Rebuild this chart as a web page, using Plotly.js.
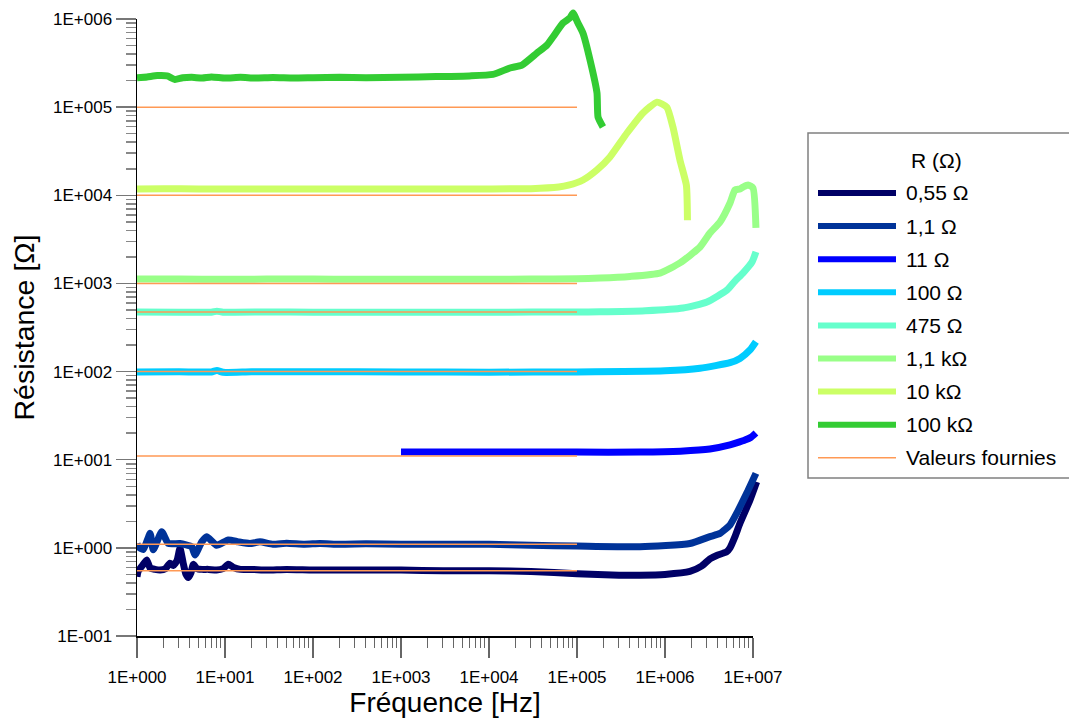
<!DOCTYPE html>
<html><head><meta charset="utf-8">
<script src="https://cdn.plot.ly/plotly-3.0.1.min.js"></script>
<style>html,body{margin:0;padding:0;background:#fff}</style>
</head><body><div id="chart" style="width:1069px;height:718px"></div>
<script>
// ---------- data ----------
const seriesNames = ['0,55 Ω', '1,1 Ω', '11 Ω', '100 Ω', '475 Ω', '1,1 kΩ', '10 kΩ', '100 kΩ'];
const seriesColors = ['#000066', '#003399', '#0000ff', '#00ccff', '#66ffcc', '#99ff88', '#ccff66', '#33cc33'];
const legendTitle = 'R (Ω)';
const refName = 'Valeurs fournies';
const refColor = '#ff9955';
const refValues = [0.55, 1.1, 11, 100, 475, 1000, 10000, 100000];
const refFreqStart = 1;
const refFreqEnd = 100000;

const f_055 = [1, 1.03, 1.15, 1.29, 1.41, 1.6, 1.83, 2.1, 2.37, 2.58, 2.85, 3.08, 3.35, 3.6, 3.83, 4.1, 4.37, 4.8, 5.5, 6.5, 8, 9.5, 10.9, 12.5, 15, 20, 30, 50, 100, 200, 500, 1000, 3000, 10000, 30000, 100000, 300000, 520000, 1000000, 1920000, 2600000, 3240000, 3870000, 5000000, 5480000, 6240000, 7110000, 9250000, 11000000];
const r_055 = [0.47, 0.54, 0.63, 0.73, 0.59, 0.57, 0.56, 0.58, 0.67, 0.63, 0.72, 0.99, 0.67, 0.5, 0.46, 0.52, 0.65, 0.58, 0.57, 0.57, 0.56, 0.58, 0.65, 0.6, 0.57, 0.57, 0.56, 0.57, 0.56, 0.56, 0.56, 0.56, 0.55, 0.55, 0.54, 0.51, 0.49, 0.49, 0.5, 0.54, 0.62, 0.75, 0.82, 0.9, 1.0, 1.34, 1.9, 3.49, 5.6];

const f_1_1 = [1, 1.03, 1.18, 1.41, 1.53, 1.91, 2.27, 3.08, 4.18, 4.56, 5.44, 6.2, 8.05, 10.9, 14.2, 19.2, 25, 35, 50, 80, 120, 200, 400, 1000, 3000, 10000, 30000, 100000, 520000, 1920000, 3240000, 4220000, 5480000, 6530000, 8470000, 10800000];
const r_1_1 = [1.12, 1.03, 0.96, 1.46, 0.95, 1.52, 1.12, 1.12, 1.03, 0.83, 1.17, 1.34, 1.07, 1.23, 1.17, 1.12, 1.17, 1.1, 1.13, 1.1, 1.12, 1.1, 1.11, 1.1, 1.1, 1.1, 1.07, 1.05, 1.03, 1.12, 1.34, 1.46, 1.82, 2.47, 4.16, 7.0];

const f_11 = [1000, 10000, 100000, 520000, 1500000, 3240000, 5480000, 6500000, 8100000, 9500000, 10800000];
const r_11 = [12.2, 12.2, 12.2, 12.2, 12.5, 13.2, 14.7, 15.5, 16.7, 18, 20.1];

const f_100 = [1, 3, 7, 8.1, 9.5, 20, 100, 1000, 10000, 100000, 1000000, 2500000, 5480000, 7110000, 9250000, 10800000];
const r_100 = [99, 99.5, 99, 103, 98, 99.5, 99.5, 99, 98.5, 99, 102, 109, 126, 141, 176, 218];

const f_475 = [1, 3, 7, 8.1, 9.5, 30, 100, 1000, 10000, 100000, 182000, 600000, 1600000, 3000000, 5070000, 6240000, 7690000, 9750000, 10800000];
const r_475 = [474, 472, 472, 485, 472, 474, 472, 472, 472, 474, 476, 490, 526, 615, 841, 1064, 1312, 1750, 2275];

const f_1k1 = [1, 3, 10, 30, 100, 300, 1000, 3000, 10000, 30000, 100000, 182000, 400000, 877000, 1480000, 2500000, 3240000, 4220000, 5480000, 6240000, 7110000, 7700000, 8770000, 10000000, 10800000];
const r_1k1 = [1120, 1120, 1115, 1120, 1120, 1115, 1115, 1115, 1115, 1120, 1130, 1150, 1200, 1310, 1710, 2590, 3730, 4980, 8170, 11500, 11800, 12400, 13100, 12100, 4260];

const f_10k = [1, 2, 5, 10, 30, 100, 300, 1000, 3000, 10000, 30000, 62000, 80000, 117000, 168700, 237000, 370000, 562000, 811000, 1050000, 1230000, 1480000, 1750000, 1800000];
const r_10k = [11800, 11900, 11800, 11800, 11750, 11800, 11750, 11800, 11800, 11800, 11900, 12400, 13000, 14900, 19400, 27200, 50900, 86000, 114000, 100000, 59600, 25000, 13000, 5200];

const f_100k = [1, 1.3, 1.7, 2.2, 2.7, 3.3, 4.2, 5.5, 7, 10, 15, 22, 35, 60, 100, 200, 400, 1000, 2500, 6000, 11100, 17300, 23700, 35100, 45600, 53300, 69300, 83200, 90200, 102500, 117000, 140600, 168700, 173400, 197200];
const r_100k = [215000, 220000, 228000, 226000, 206000, 215000, 218000, 214000, 220000, 214000, 218000, 214000, 217000, 214000, 216000, 218000, 216000, 219000, 222000, 226000, 235000, 278000, 300000, 411000, 507000, 625000, 900000, 1030000, 1170000, 900000, 690000, 343000, 145000, 77000, 59600];

const xTickVals = [1, 10, 100, 1000, 10000, 100000, 1000000, 10000000];
const xTickText = ['1E+000', '1E+001', '1E+002', '1E+003', '1E+004', '1E+005', '1E+006', '1E+007'];
const yTickVals = [0.1, 1, 10, 100, 1000, 10000, 100000, 1000000];
const yTickText = ['1E-001', '1E+000', '1E+001', '1E+002', '1E+003', '1E+004', '1E+005', '1E+006'];
const xTitle = 'Fréquence [Hz]';
const yTitle = 'Résistance [Ω]';

// ---------- build ----------
const seriesX = [f_055, f_1_1, f_11, f_100, f_475, f_1k1, f_10k, f_100k];
const seriesY = [r_055, r_1_1, r_11, r_100, r_475, r_1k1, r_10k, r_100k];

const FONT = 'Arial, "Liberation Sans", sans-serif';

// geometry (pixels): visible axes box and a slightly larger drawing box for the data
const L = 137, R = 775, TOP = 5, BOT = 636;     // data drawing box
const AX_R = 753, AX_T = 19;                     // visible axes end
const W2 = R - L, H2 = BOT - TOP;
const xSpan = 7, ySpan = 7;                      // decades shown by visible axes
const xFrac = (AX_R - L) / W2, yFrac = (BOT - AX_T) / H2;

const traces = [];
// empty trace to carry the visible axes
traces.push({x: [], y: [], xaxis: 'x', yaxis: 'y', type: 'scatter', mode: 'lines', showlegend: false, hoverinfo: 'skip'});
for (let i = 0; i < seriesNames.length; i++) {
  traces.push({
    x: seriesX[i], y: seriesY[i], name: seriesNames[i], type: 'scatter', mode: 'lines',
    xaxis: 'x2', yaxis: 'y2',
    line: {color: seriesColors[i], width: 7, shape: 'spline', smoothing: 0.5},
    showlegend: false, hoverinfo: 'skip'
  });
}
const rx = [], ry = [];
refValues.forEach(v => { rx.push(refFreqStart, refFreqEnd, null); ry.push(v, v, null); });
traces.push({x: rx, y: ry, name: refName, type: 'scatter', mode: 'lines', xaxis: 'x2', yaxis: 'y2',
  line: {color: refColor, width: 1.5}, connectgaps: false, showlegend: false, hoverinfo: 'skip'});

function minorVals(lo, hi) {
  const out = [];
  for (let e = lo; e < hi; e++) for (let d = 2; d <= 9; d++) out.push(d * Math.pow(10, e));
  return out;
}

const pxX = x => (x - L) / W2;
const pxY = y => (BOT - y) / H2;

const shapes = [], annotations = [];
shapes.push({type: 'rect', xref: 'paper', yref: 'paper', x0: pxX(808), x1: pxX(1078), y0: pxY(478), y1: pxY(133),
  line: {color: '#808080', width: 1.5}, fillcolor: 'rgba(0,0,0,0)'});
annotations.push({xref: 'paper', yref: 'paper', x: pxX(936), y: pxY(160), text: legendTitle, showarrow: false,
  xanchor: 'center', yanchor: 'middle', font: {family: FONT, size: 21, color: '#000'}});
const legNames = seriesNames.concat([refName]);
const legColors = seriesColors.concat([refColor]);
for (let i = 0; i < legNames.length; i++) {
  const yy = 193 + i * 33.1;
  const isRef = i === legNames.length - 1;
  shapes.push({type: 'line', xref: 'paper', yref: 'paper', x0: pxX(818), x1: pxX(896), y0: pxY(yy), y1: pxY(yy),
    line: {color: legColors[i], width: isRef ? 1.5 : 6}});
  annotations.push({xref: 'paper', yref: 'paper', x: pxX(904), y: pxY(yy), text: legNames[i], showarrow: false,
    xanchor: 'left', yanchor: 'middle', font: {family: FONT, size: 21, color: '#000'}});
}

const layout = {
  width: 1069, height: 718,
  margin: {l: L, r: 1069 - R, t: TOP, b: 718 - BOT, pad: 0},
  paper_bgcolor: '#fff', plot_bgcolor: 'rgba(0,0,0,0)',
  font: {family: FONT, color: '#000'},
  showlegend: false,
  xaxis: {
    type: 'log', range: [0, xSpan], domain: [0, xFrac], anchor: 'y',
    showgrid: false, zeroline: false,
    showline: true, linecolor: '#000', linewidth: 1.5,
    ticks: 'outside', ticklen: 20, tickwidth: 1.5, tickcolor: '#666',
    tickmode: 'array', tickvals: xTickVals, ticktext: xTickText, ticklabelstandoff: 5,
    tickfont: {family: FONT, size: 17, color: '#000'},
    minor: {tickmode: 'array', tickvals: minorVals(0, 7), ticks: 'outside', ticklen: 10, tickwidth: 1, tickcolor: '#666', showgrid: false},
    title: {text: xTitle, font: {family: FONT, size: 28, color: '#000'}, standoff: 11},
    automargin: false
  },
  yaxis: {
    type: 'log', range: [-1, -1 + ySpan], domain: [0, yFrac], anchor: 'x',
    showgrid: false, zeroline: false,
    showline: true, linecolor: '#000', linewidth: 1.5,
    ticks: 'outside', ticklen: 20, tickwidth: 1.5, tickcolor: '#777',
    tickmode: 'array', tickvals: yTickVals, ticktext: yTickText,
    tickfont: {family: FONT, size: 17, color: '#000'},
    minor: {tickmode: 'array', tickvals: minorVals(-1, 6), ticks: 'outside', ticklen: 10, tickwidth: 1.5, tickcolor: '#888', showgrid: false},
    title: {text: yTitle, font: {family: FONT, size: 28.5, color: '#000'}, standoff: 10},
    automargin: false
  },
  xaxis2: {type: 'log', range: [0, xSpan / xFrac], domain: [0, 1], anchor: 'y2', visible: false},
  yaxis2: {type: 'log', range: [-1, -1 + ySpan / yFrac], domain: [0, 1], anchor: 'x2', visible: false},
  shapes: shapes,
  annotations: annotations
};

Plotly.newPlot('chart', traces, layout, {displayModeBar: false, staticPlot: true});
</script>
</body></html>
